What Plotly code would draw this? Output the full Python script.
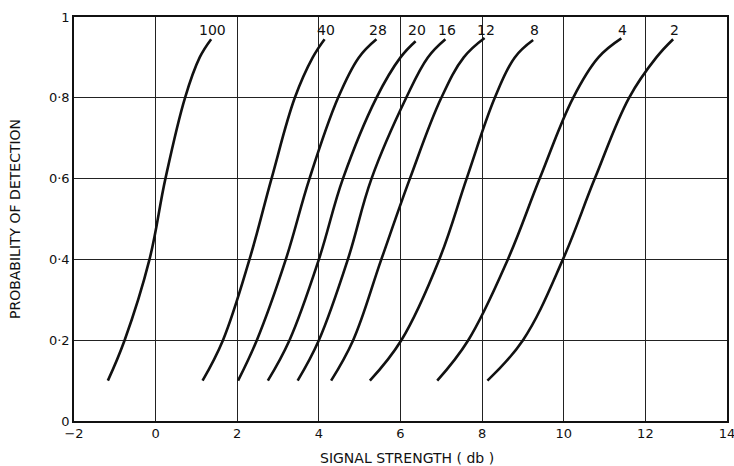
import plotly.graph_objects as go

# Detection probability curves for different numbers of integrated pulses.
# Each curve: signal strength (db) at the listed probability levels,
# the last value being the upper end of the curve (see top_prob).
pulse_counts = ["100", "40", "28", "20", "16", "12", "8", "4", "2"]

prob_levels = [0.10, 0.20, 0.40, 0.60, 0.80, 0.90]

db_100 = [-1.17, -0.76, -0.15, 0.24, 0.72, 1.08, 1.36]
db_40 = [1.15, 1.65, 2.30, 2.84, 3.41, 3.85, 4.14]
db_28 = [2.02, 2.48, 3.19, 3.77, 4.47, 4.98, 5.41]
db_20 = [2.75, 3.28, 4.00, 4.59, 5.41, 6.00, 6.37]
db_16 = [3.48, 4.00, 4.71, 5.29, 6.14, 6.67, 7.10]
db_12 = [4.30, 4.84, 5.53, 6.23, 7.00, 7.55, 8.06]
db_8 = [5.25, 6.02, 6.95, 7.62, 8.31, 8.80, 9.25]
db_4 = [6.90, 7.66, 8.63, 9.41, 10.23, 10.85, 11.41]
db_2 = [8.13, 9.00, 9.98, 10.76, 11.60, 12.27, 12.68]

# probability at the upper end of each curve
top_prob = [0.945, 0.945, 0.945, 0.94, 0.945, 0.948, 0.943, 0.947, 0.945]

curves = [db_100, db_40, db_28, db_20, db_16, db_12, db_8, db_4, db_2]

x_ticks = [-2, 0, 2, 4, 6, 8, 10, 12, 14]
x_tick_text = ["\u22122", "0", "2", "4", "6", "8", "10", "12", "14"]
y_ticks = [0, 0.2, 0.4, 0.6, 0.8, 1.0]
y_tick_text = ["0", "0\u00b72", "0\u00b74", "0\u00b76", "0\u00b78", "1"]

x_title = "SIGNAL STRENGTH ( db )"
y_title = "PROBABILITY OF DETECTION"

INK = "#111111"
FONT = "DejaVu Sans"

fig = go.Figure()
for name, xs, ptop in zip(pulse_counts, curves, top_prob):
    fig.add_trace(go.Scatter(
        x=xs,
        y=prob_levels + [ptop],
        mode="lines",
        line=dict(color=INK, width=2.6, shape="spline", smoothing=1.1),
        name=name,
        showlegend=False,
        hoverinfo="skip",
    ))
    fig.add_annotation(
        x=xs[-1] + 0.04, y=0.968, text=name, showarrow=False,
        font=dict(family=FONT, size=14, color=INK),
        xanchor="center", yanchor="middle",
    )

axis_common = dict(
    showgrid=True, gridcolor="#222222", gridwidth=1.2,
    showline=True, linecolor=INK, linewidth=1.6, mirror=True,
    zeroline=False, ticks="", automargin=False,
    ticklabeloverflow="allow",
    tickfont=dict(family=FONT, size=13, color=INK),
)

fig.update_xaxes(range=[-2, 14], tickvals=x_ticks, ticktext=x_tick_text,
                 **axis_common)
fig.update_yaxes(range=[0, 1], tickvals=y_ticks, ticktext=y_tick_text,
                 **axis_common)

# axis titles placed as paper-anchored annotations
fig.add_annotation(
    text=x_title, xref="paper", yref="paper", x=0.51, y=0, yshift=-37,
    showarrow=False, xanchor="center", yanchor="middle",
    font=dict(family=FONT, size=14, color=INK),
)
fig.add_annotation(
    text=y_title, xref="paper", yref="paper", x=0, y=0.5, xshift=-59,
    textangle=-90, showarrow=False, xanchor="center", yanchor="middle",
    font=dict(family=FONT, size=14, color=INK),
)

fig.update_layout(
    width=734, height=466,
    margin=dict(l=74, r=7, t=17, b=45),
    paper_bgcolor="white", plot_bgcolor="white",
)

fig.write_html("out.html")
